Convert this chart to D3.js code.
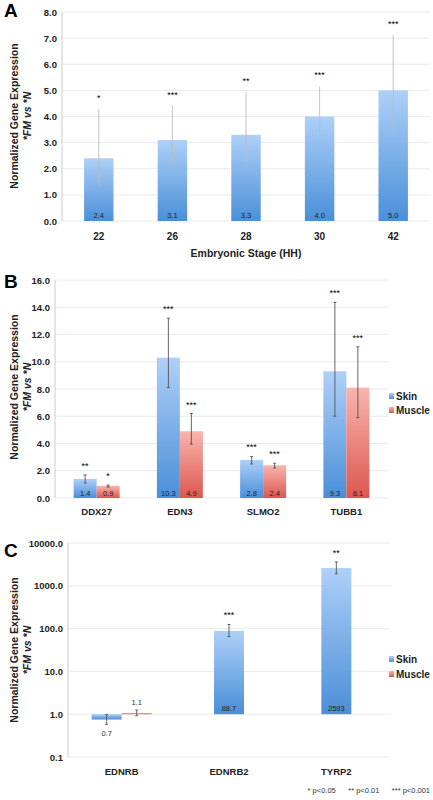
<!DOCTYPE html><html><head><meta charset="utf-8"><script src="https://cdn.jsdelivr.net/npm/d3@7"></script>
<style>body{margin:0;background:#fff}text{font-family:Arial,"Liberation Sans",sans-serif}</style></head><body>
<svg id="c" width="433" height="800"></svg>
<script>
// Panel A
const stagesA=["22","26","28","30","42"];
const valuesA=[2.4,3.1,3.3,4.0,5.0];
const errLoA=[1.35,2.2,2.25,3.15,3.48];
const errHiA=[4.27,4.42,4.92,5.15,7.12];
const sigA=["*","***","**","***","***"];
const ticksA=[0,1,2,3,4,5,6,7,8];
// Panel B
const genesB=["DDX27","EDN3","SLMO2","TUBB1"];
const skinB=[1.4,10.3,2.8,9.3];
const muscleB=[0.9,4.9,2.4,8.1];
const skinLoB=[1.1,8.1,2.5,6.0], skinHiB=[1.7,13.2,3.05,14.35];
const muscleLoB=[0.8,3.95,2.2,5.9], muscleHiB=[0.95,6.2,2.55,11.1];
const skinSigB=["**","***","***","***"], muscleSigB=["*","***","***","***"];
const ticksB=[0,2,4,6,8,10,12,14,16];
// Panel C
const genesC=["EDNRB","EDNRB2","TYRP2"];
const skinC=[0.75,88.7,2593];
const skinLabelC=["0.7","88.7","2593"];
const muscleC=[1.07,null,null];
const muscleLabelC=["1.1",null,null];
const skinLoC=[0.58,65,1900], skinHiC=[0.98,125,3600];
const muscleLoC=[0.92,null,null], muscleHiC=[1.25,null,null];
const skinSigC=["","***","**"];
const ticksC=[0.1,1,10,100,1000,10000];

const svg=d3.select("#c");
const defs=svg.append("defs");
function grad(id,top,bot){const g=defs.append("linearGradient").attr("id",id).attr("x1",0).attr("y1",0).attr("x2",0).attr("y2",1);
g.append("stop").attr("offset","0%").attr("stop-color",top);g.append("stop").attr("offset","100%").attr("stop-color",bot);}
grad("gb","#aed0f8","#4a8fd8");grad("gr","#f8b5ae","#dc5750");

function frame(y,x0,x1,top,bot,ticks,fmt,title1,title2,tcx,tcy){
  ticks.forEach(t=>{svg.append("line").attr("x1",x0).attr("x2",x1).attr("y1",y(t)).attr("y2",y(t)).attr("stroke","#e4e4e4").attr("stroke-width",0.8);
   svg.append("text").attr("x",x0-5).attr("y",y(t)+3.5).attr("text-anchor","end").attr("font-size",9.5).attr("font-weight","bold").attr("fill","#222").text(fmt(t));});
  svg.append("line").attr("x1",x0).attr("x2",x0).attr("y1",top).attr("y2",bot).attr("stroke","#ccc");
  const g=svg.append("text").attr("transform",`translate(${tcx},${tcy}) rotate(-90)`).attr("text-anchor","middle").attr("font-size",10.5).attr("font-weight","bold").attr("fill","#222");
  g.append("tspan").attr("x",0).attr("dy",0).text(title1);
  g.append("tspan").attr("x",0).attr("dy",13).attr("font-style","italic").text(title2);
}
function errbar(x,y1,y2,cap,col){svg.append("line").attr("x1",x).attr("x2",x).attr("y1",y1).attr("y2",y2).attr("stroke",col).attr("stroke-width",0.9);
 if(cap){[y1,y2].forEach(yy=>svg.append("line").attr("x1",x-1.5).attr("x2",x+1.5).attr("y1",yy).attr("y2",yy).attr("stroke",col).attr("stroke-width",0.9));}}
function letter(t,y){svg.append("text").attr("x",4).attr("y",y).attr("font-size",19).attr("font-weight","bold").text(t);}
function legend(x,y1,y2){[["Skin","url(#gb)",y1],["Muscle","url(#gr)",y2]].forEach(([t,f,yy])=>{
 svg.append("rect").attr("x",x).attr("y",yy-4).attr("width",5).attr("height",6).attr("fill",f);
 svg.append("text").attr("x",x+7).attr("y",yy+3).attr("font-size",10).attr("font-weight","bold").attr("fill","#222").text(t);});}

// ---- A
letter("A",17);
const yA=d3.scaleLinear().domain([0,8]).range([221,12]);
const xA=d3.scaleBand().domain(stagesA).range([62,430]).paddingInner(0.6).paddingOuter(0.3);
frame(yA,62,430,12,221,ticksA,d3.format(".1f"),"Normalized Gene Expression","*FM vs *N",18,116);
stagesA.forEach((s,i)=>{const x=xA(s),w=xA.bandwidth(),cx=x+w/2;
 svg.append("rect").attr("x",x).attr("y",yA(valuesA[i])).attr("width",w).attr("height",yA(0)-yA(valuesA[i])).attr("fill","url(#gb)");
 errbar(cx,yA(errLoA[i]),yA(errHiA[i]),false,"#bbb");
 svg.append("text").attr("x",cx).attr("y",yA(errHiA[i])-8).attr("text-anchor","middle").attr("font-size",9).text(sigA[i]);
 svg.append("text").attr("x",cx).attr("y",218).attr("text-anchor","middle").attr("font-size",7.5).attr("fill","#223").text(valuesA[i].toFixed(1));
 svg.append("text").attr("x",cx).attr("y",240).attr("text-anchor","middle").attr("font-size",10).attr("font-weight","bold").attr("fill","#222").text(s);});
svg.append("text").attr("x",246).attr("y",257).attr("text-anchor","middle").attr("font-size",10.5).attr("font-weight","bold").attr("fill","#222").text("Embryonic Stage (HH)");

// ---- B
letter("B",288);
const yB=d3.scaleLinear().domain([0,16]).range([498,280]);
const xB=d3.scaleBand().domain(genesB).range([55,388]).paddingInner(0).paddingOuter(0);
frame(yB,55,388,280,498,ticksB,d3.format(".1f"),"Normalized Gene Expression","*FM vs *N",18,387);
genesB.forEach((g,i)=>{const c=xB(g)+xB.bandwidth()/2,w=23;
 [[skinB,skinLoB,skinHiB,skinSigB,"url(#gb)",c-w],[muscleB,muscleLoB,muscleHiB,muscleSigB,"url(#gr)",c]].forEach(([v,lo,hi,sg,f,x])=>{
  svg.append("rect").attr("x",x).attr("y",yB(v[i])).attr("width",w).attr("height",yB(0)-yB(v[i])).attr("fill",f);
  errbar(x+w/2,yB(lo[i]),yB(hi[i]),true,"#555");
  svg.append("text").attr("x",x+w/2).attr("y",yB(hi[i])-6).attr("text-anchor","middle").attr("font-size",9).text(sg[i]);
  svg.append("text").attr("x",x+w/2).attr("y",496).attr("text-anchor","middle").attr("font-size",7.5).attr("fill","#222").text(v[i].toFixed(1));});
 svg.append("text").attr("x",c).attr("y",515).attr("text-anchor","middle").attr("font-size",9.5).attr("font-weight","bold").attr("fill","#222").text(g);});
legend(389,397,411);

// ---- C
letter("C",557);
const yC=d3.scaleLog().domain([0.1,10000]).range([757,543]);
frame(yC,68,390,543,757,ticksC,d3.format(".1f"),"Normalized Gene Expression","*FM vs *N",18,650);
const xC=d3.scaleBand().domain(genesC).range([68,390]).paddingInner(0).paddingOuter(0);
genesC.forEach((g,i)=>{const c=xC(g)+xC.bandwidth()/2,w=30;
 const xs=muscleC[i]==null?c-w/2:c-w;
 svg.append("rect").attr("x",xs).attr("y",Math.min(yC(skinC[i]),yC(1))).attr("width",w).attr("height",Math.abs(yC(1)-yC(skinC[i]))).attr("fill","url(#gb)");
 errbar(xs+w/2,yC(skinLoC[i]),yC(skinHiC[i]),true,"#555");
 if(skinSigC[i])svg.append("text").attr("x",xs+w/2).attr("y",yC(skinHiC[i])-6).attr("text-anchor","middle").attr("font-size",9).text(skinSigC[i]);
 if(skinC[i]>=1)svg.append("text").attr("x",xs+w/2).attr("y",yC(1)-3).attr("text-anchor","middle").attr("font-size",7.5).attr("fill","#222").text(skinLabelC[i]);
 else svg.append("text").attr("x",xs+w/2).attr("y",yC(skinC[i])+16).attr("text-anchor","middle").attr("font-size",7.5).attr("fill","#333").text(skinLabelC[i]);
 if(muscleC[i]!=null){
  svg.append("rect").attr("x",c).attr("y",yC(muscleC[i])).attr("width",w).attr("height",yC(1)-yC(muscleC[i])).attr("fill","url(#gr)");
  errbar(c+w/2,yC(muscleLoC[i]),yC(muscleHiC[i]),true,"#555");
  svg.append("text").attr("x",c+w/2).attr("y",yC(muscleHiC[i])-5).attr("text-anchor","middle").attr("font-size",7.5).attr("fill","#333").text(muscleLabelC[i]);}
 svg.append("text").attr("x",c).attr("y",775).attr("text-anchor","middle").attr("font-size",9.5).attr("font-weight","bold").attr("fill","#222").text(g);});
legend(389,660,675);
svg.append("text").attr("x",430).attr("y",793).attr("text-anchor","end").attr("font-size",7.5).attr("fill","#333").attr("xml:space","preserve").text("* p<0.05      ** p<0.01      *** p<0.001");
</script></body></html>
